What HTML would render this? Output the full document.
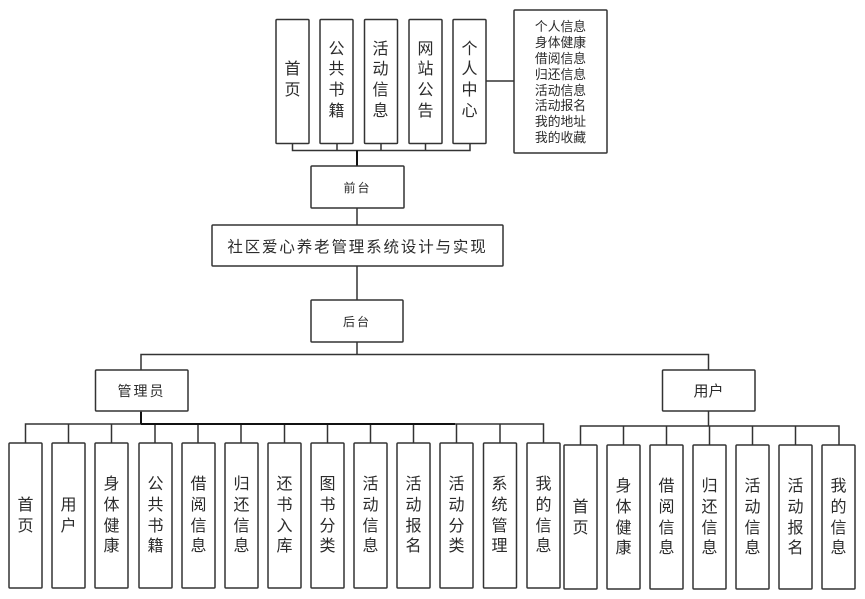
<!DOCTYPE html>
<html lang="zh">
<head>
<meta charset="utf-8">
<style>
html,body{margin:0;padding:0;background:#fff}
#w{position:relative;width:865px;height:599px;overflow:hidden;background:#fff;filter:blur(.35px);font-family:"Liberation Sans","Noto Sans CJK SC",sans-serif;color:#2b2b2b}
svg{position:absolute;left:0;top:0}
.t{position:absolute;display:flex;align-items:center;justify-content:center;text-align:center;white-space:nowrap}
.v{font-size:16px;line-height:20.7px}
</style>
</head>
<body>
<div id="w">
<svg width="865" height="599" viewBox="0 0 865 599">
<g fill="none" stroke="#333" stroke-width="1.5">
<!-- top connectors -->
<path d="M292.5 143V150.5H470V143M337 143V150.5M381 143V150.5M425.500 143V150.500"/>
<path d="M357 150.500V166" stroke="#111" stroke-width="2"/>
<path d="M357 208V225M357 266V300M357 342V354.500M486 81H514"/>
<path d="M141 370V354.500H708.500V370"/>
<path d="M141 411V424M25.500 443V424H543.500V443M68.500 424V443M111.500 424V443M155 424V443M198 424V443M241 424V443M284.500 424V443M327.500 424V443M370.500 424V443M413.500 424V443M456.500 424V443M500 424V443"/>
<path d="M708.500 411V426M580.500 445V426H839V445M623.500 426V445M666.500 426V445M709.500 426V445M752.500 426V445M795.500 426V445"/>
<path d="M141 412V424M141 424H455" stroke="#111" stroke-width="2"/>
<!-- boxes -->
<g fill="#fff">
<rect x="276" y="19.500" width="33" height="124" rx="1"/>
<rect x="320" y="19.500" width="33" height="124" rx="1"/>
<rect x="364.500" y="19.500" width="33" height="124" rx="1"/>
<rect x="409" y="19.500" width="33" height="124" rx="1"/>
<rect x="453" y="19.500" width="33" height="124" rx="1"/>
<rect x="514" y="10" width="93" height="143" rx="1"/>
<rect x="311" y="166" width="93" height="42" rx="1"/>
<rect x="212" y="225" width="291" height="41" rx="1"/>
<rect x="311" y="300" width="92" height="42" rx="1"/>
<rect x="95.500" y="370" width="92.500" height="41" rx="1"/>
<rect x="662.500" y="370" width="92.500" height="41" rx="1"/>
<rect x="9" y="443" width="33" height="145" rx="1"/>
<rect x="52" y="443" width="33" height="145" rx="1"/>
<rect x="95" y="443" width="33" height="145" rx="1"/>
<rect x="139" y="443" width="33" height="145" rx="1"/>
<rect x="182" y="443" width="33" height="145" rx="1"/>
<rect x="225" y="443" width="33" height="145" rx="1"/>
<rect x="268" y="443" width="33" height="145" rx="1"/>
<rect x="311" y="443" width="33" height="145" rx="1"/>
<rect x="354" y="443" width="33" height="145" rx="1"/>
<rect x="397" y="443" width="33" height="145" rx="1"/>
<rect x="440" y="443" width="33" height="145" rx="1"/>
<rect x="483.500" y="443" width="33" height="145" rx="1"/>
<rect x="527" y="443" width="33" height="145" rx="1"/>
<rect x="564" y="445" width="33" height="144" rx="1"/>
<rect x="607" y="445" width="33" height="144" rx="1"/>
<rect x="650" y="445" width="33" height="144" rx="1"/>
<rect x="693" y="445" width="33" height="144" rx="1"/>
<rect x="736" y="445" width="33" height="144" rx="1"/>
<rect x="779" y="445" width="33" height="144" rx="1"/>
<rect x="822" y="445" width="33" height="144" rx="1"/>
</g>
</g>
</svg>

<div class="t v" style="left:276px;top:19px;width:33px;height:124px">首<br>页</div>
<div class="t v" style="left:320px;top:19px;width:33px;height:124px">公<br>共<br>书<br>籍</div>
<div class="t v" style="left:364px;top:19px;width:33px;height:124px">活<br>动<br>信<br>息</div>
<div class="t v" style="left:409px;top:19px;width:33px;height:124px">网<br>站<br>公<br>告</div>
<div class="t v" style="left:453px;top:19px;width:33px;height:124px">个<br>人<br>中<br>心</div>

<div class="t" style="left:514px;top:11px;width:93px;height:143px;font-size:12.800px;line-height:15.900px">个人信息<br>身体健康<br>借阅信息<br>归还信息<br>活动信息<br>活动报名<br>我的地址<br>我的收藏</div>

<div class="t" style="left:311px;top:166px;width:93px;height:42px;font-size:12px;letter-spacing:2px">前台</div>
<div class="t" style="left:212px;top:225px;width:291px;height:41px;font-size:15.500px;letter-spacing:1.850px">社区爱心养老管理系统设计与实现</div>
<div class="t" style="left:311px;top:300px;width:92px;height:42px;font-size:12px;letter-spacing:2px">后台</div>
<div class="t" style="left:95px;top:370px;width:93px;height:41px;font-size:14px;letter-spacing:2px">管理员</div>
<div class="t" style="left:662px;top:370px;width:93px;height:41px;font-size:15px">用户</div>

<div class="t v" style="left:9px;top:443px;width:33px;height:147px">首<br>页</div>
<div class="t v" style="left:52px;top:443px;width:33px;height:147px">用<br>户</div>
<div class="t v" style="left:95px;top:443px;width:33px;height:147px">身<br>体<br>健<br>康</div>
<div class="t v" style="left:139px;top:443px;width:33px;height:147px">公<br>共<br>书<br>籍</div>
<div class="t v" style="left:182px;top:443px;width:33px;height:147px">借<br>阅<br>信<br>息</div>
<div class="t v" style="left:225px;top:443px;width:33px;height:147px">归<br>还<br>信<br>息</div>
<div class="t v" style="left:268px;top:443px;width:33px;height:147px">还<br>书<br>入<br>库</div>
<div class="t v" style="left:311px;top:443px;width:33px;height:147px">图<br>书<br>分<br>类</div>
<div class="t v" style="left:354px;top:443px;width:33px;height:147px">活<br>动<br>信<br>息</div>
<div class="t v" style="left:397px;top:443px;width:33px;height:147px">活<br>动<br>报<br>名</div>
<div class="t v" style="left:440px;top:443px;width:33px;height:147px">活<br>动<br>分<br>类</div>
<div class="t v" style="left:483px;top:443px;width:33px;height:147px">系<br>统<br>管<br>理</div>
<div class="t v" style="left:527px;top:443px;width:33px;height:147px">我<br>的<br>信<br>息</div>

<div class="t v" style="left:564px;top:445px;width:33px;height:147px">首<br>页</div>
<div class="t v" style="left:607px;top:445px;width:33px;height:147px">身<br>体<br>健<br>康</div>
<div class="t v" style="left:650px;top:445px;width:33px;height:147px">借<br>阅<br>信<br>息</div>
<div class="t v" style="left:693px;top:445px;width:33px;height:147px">归<br>还<br>信<br>息</div>
<div class="t v" style="left:736px;top:445px;width:33px;height:147px">活<br>动<br>信<br>息</div>
<div class="t v" style="left:779px;top:445px;width:33px;height:147px">活<br>动<br>报<br>名</div>
<div class="t v" style="left:822px;top:445px;width:33px;height:147px">我<br>的<br>信<br>息</div>
</div>
</body>
</html>
